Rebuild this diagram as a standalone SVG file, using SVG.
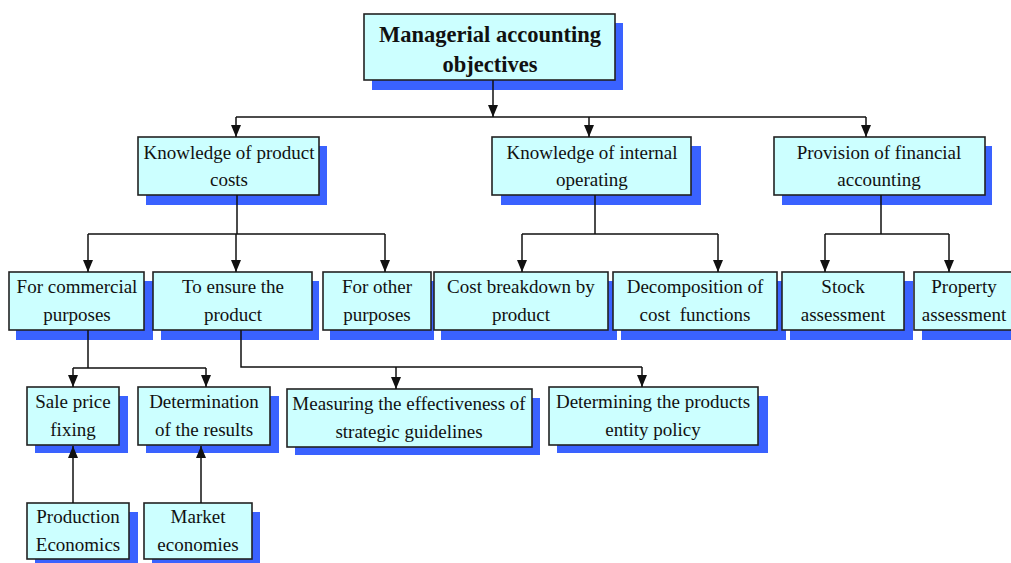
<svg xmlns="http://www.w3.org/2000/svg" width="1011" height="563" viewBox="0 0 1011 563">
<style>
.sh{fill:#3A62FF;}
.bx{fill:#CCFFFF;stroke:#222;stroke-width:1.6;}
.t{font-family:"Liberation Serif","Times New Roman",serif;font-size:19px;fill:#111;text-anchor:middle;white-space:pre;}
.tb{font-family:"Liberation Serif","Times New Roman",serif;font-size:22.5px;font-weight:bold;fill:#111;text-anchor:middle;}
.ln{fill:none;stroke:#111;stroke-width:1.5;}
</style>
<defs>
<marker id="ah" viewBox="0 0 12 10" refX="12" refY="5" markerWidth="12" markerHeight="10" markerUnits="userSpaceOnUse" orient="auto">
<path d="M0,0 L12,5 L0,10 z" fill="#111"/>
</marker>
</defs>
<rect width="1011" height="563" fill="#fff"/>
<g id="n-top">
<rect class="sh" x="372" y="23" width="251" height="67"/>
<rect class="bx" x="364" y="14" width="251" height="66"/>
<text class="tb" x="490" y="42">Managerial accounting</text>
<text class="tb" x="490" y="72">objectives</text>
</g>
<g id="n-product-costs">
<rect class="sh" x="146" y="146" width="181" height="59"/>
<rect class="bx" x="138" y="137" width="181" height="58"/>
<text class="t" x="229" y="159">Knowledge of product</text>
<text class="t" x="229" y="186">costs</text>
</g>
<g id="n-internal">
<rect class="sh" x="501" y="146" width="200" height="59"/>
<rect class="bx" x="492" y="137" width="199" height="58"/>
<text class="t" x="592" y="159">Knowledge of internal</text>
<text class="t" x="592" y="186">operating</text>
</g>
<g id="n-financial">
<rect class="sh" x="782" y="146" width="210" height="59"/>
<rect class="bx" x="774" y="137" width="211" height="58"/>
<text class="t" x="879" y="159">Provision of financial</text>
<text class="t" x="879" y="186">accounting</text>
</g>
<g id="n-commercial">
<rect class="sh" x="16" y="281" width="137" height="59"/>
<rect class="bx" x="9" y="272" width="135" height="58"/>
<text class="t" x="77" y="293">For commercial</text>
<text class="t" x="77" y="321">purposes</text>
</g>
<g id="n-ensure">
<rect class="sh" x="161" y="281" width="158" height="59"/>
<rect class="bx" x="153" y="272" width="159" height="58"/>
<text class="t" x="233" y="293">To ensure the</text>
<text class="t" x="233" y="321">product</text>
</g>
<g id="n-other">
<rect class="sh" x="330" y="281" width="104" height="59"/>
<rect class="bx" x="323" y="272" width="108" height="58"/>
<text class="t" x="377" y="293">For other</text>
<text class="t" x="377" y="321">purposes</text>
</g>
<g id="n-breakdown">
<rect class="sh" x="441" y="281" width="176" height="59"/>
<rect class="bx" x="434" y="272" width="174" height="58"/>
<text class="t" x="521" y="293">Cost breakdown by</text>
<text class="t" x="521" y="321">product</text>
</g>
<g id="n-decomposition">
<rect class="sh" x="621" y="281" width="165" height="59"/>
<rect class="bx" x="613" y="272" width="164" height="58"/>
<text class="t" x="695" y="293">Decomposition of</text>
<text class="t" x="695" y="321">cost  functions</text>
</g>
<g id="n-stock">
<rect class="sh" x="790" y="281" width="123" height="59"/>
<rect class="bx" x="782" y="272" width="122" height="58"/>
<text class="t" x="843" y="293">Stock</text>
<text class="t" x="843" y="321">assessment</text>
</g>
<g id="n-property">
<rect class="sh" x="922" y="281" width="100" height="59"/>
<rect class="bx" x="914" y="272" width="100" height="58"/>
<text class="t" x="964" y="293">Property</text>
<text class="t" x="964" y="321">assessment</text>
</g>
<g id="n-sale">
<rect class="sh" x="35" y="396" width="93" height="57"/>
<rect class="bx" x="27" y="387" width="92" height="58"/>
<text class="t" x="73" y="408">Sale price</text>
<text class="t" x="73" y="436">fixing</text>
</g>
<g id="n-results">
<rect class="sh" x="146" y="396" width="133" height="57"/>
<rect class="bx" x="138" y="387" width="132" height="58"/>
<text class="t" x="204" y="408">Determination</text>
<text class="t" x="204" y="436">of the results</text>
</g>
<g id="n-measuring">
<rect class="sh" x="295" y="398" width="245" height="57"/>
<rect class="bx" x="287" y="389" width="245" height="58"/>
<text class="t" x="409" y="410">Measuring the effectiveness of</text>
<text class="t" x="409" y="438">strategic guidelines</text>
</g>
<g id="n-entity">
<rect class="sh" x="557" y="396" width="211" height="57"/>
<rect class="bx" x="549" y="387" width="209" height="58"/>
<text class="t" x="653" y="408">Determining the products</text>
<text class="t" x="653" y="436">entity policy</text>
</g>
<g id="n-production">
<rect class="sh" x="35" y="512" width="103" height="56"/>
<rect class="bx" x="27" y="503" width="102" height="56"/>
<text class="t" x="78" y="523">Production</text>
<text class="t" x="78" y="551">Economics</text>
</g>
<g id="n-market">
<rect class="sh" x="152" y="512" width="108" height="56"/>
<rect class="bx" x="144" y="503" width="108" height="56"/>
<text class="t" x="198" y="523">Market</text>
<text class="t" x="198" y="551">economies</text>
</g>
<g id="connectors">
<path class="ln" d="M493,80 V117" marker-end="url(#ah)"/>
<path class="ln" d="M236,117 H866"/>
<path class="ln" d="M236,117 V137" marker-end="url(#ah)"/>
<path class="ln" d="M589,117 V137" marker-end="url(#ah)"/>
<path class="ln" d="M866,117 V137" marker-end="url(#ah)"/>
<path class="ln" d="M237,195 V234 M88,234 H385"/>
<path class="ln" d="M88,234 V272" marker-end="url(#ah)"/>
<path class="ln" d="M236,234 V272" marker-end="url(#ah)"/>
<path class="ln" d="M385,234 V272" marker-end="url(#ah)"/>
<path class="ln" d="M595,195 V234 M522,234 H718"/>
<path class="ln" d="M522,234 V272" marker-end="url(#ah)"/>
<path class="ln" d="M718,234 V272" marker-end="url(#ah)"/>
<path class="ln" d="M881,195 V234 M825,234 H949"/>
<path class="ln" d="M825,234 V272" marker-end="url(#ah)"/>
<path class="ln" d="M949,234 V272" marker-end="url(#ah)"/>
<path class="ln" d="M88,330 V368 M73,368 H206"/>
<path class="ln" d="M73,368 V387" marker-end="url(#ah)"/>
<path class="ln" d="M206,368 V387" marker-end="url(#ah)"/>
<path class="ln" d="M241,330 V367 H642"/>
<path class="ln" d="M396,367 V389" marker-end="url(#ah)"/>
<path class="ln" d="M642,367 V387" marker-end="url(#ah)"/>
<path class="ln" d="M73,503 V446" marker-end="url(#ah)"/>
<path class="ln" d="M201,503 V446" marker-end="url(#ah)"/>
</g>
</svg>
